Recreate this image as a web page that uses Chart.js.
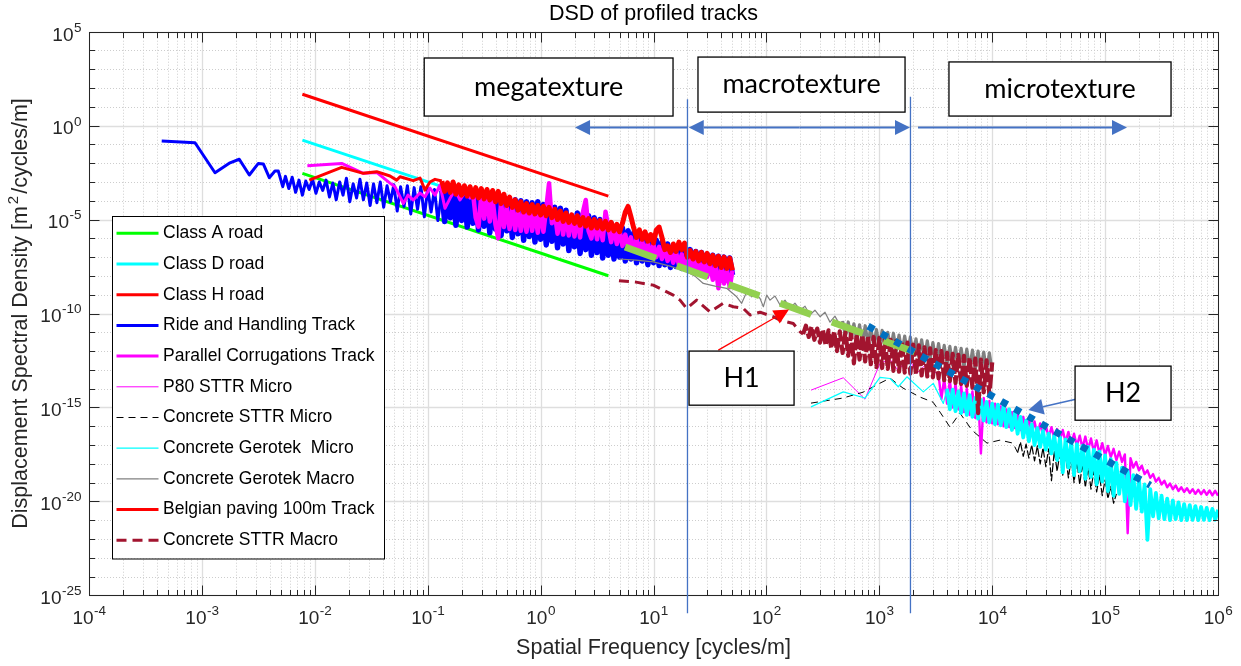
<!DOCTYPE html>
<html lang="en">
<head>
<meta charset="UTF-8">
<title>DSD of profiled tracks</title>
<script src="https://cdn.jsdelivr.net/npm/chart.js"></script>
<style>
  html, body { margin: 0; padding: 0; background: #fff; }
  #box { width: 1241px; height: 666px; }
</style>
</head>
<body>
<div id="box"><canvas id="dsd"></canvas></div>
<script>
// Every spectrum is kept as log10 values:
// frequency in cycles/m, displacement spectral density in m^2/(cycles/m)

// ISO 8608 road classes (straight lines, slope -2)
const isoF = [-2.11, 0.60];
const classA = [-2.54, -7.99];
const classD = [-0.77, -6.19];
const classH = [1.67, -3.75];

// frequency grids shared by the measured tracks
const trackF = [
  -0.875,-0.85,-0.825,-0.8,-0.775,-0.75,-0.725,-0.7,-0.675,-0.65,
  -0.625,-0.6,-0.575,-0.55,-0.525,-0.5,-0.475,-0.45,-0.425,-0.4,
  -0.375,-0.35,-0.325,-0.3,-0.275,-0.25,-0.225,-0.2,-0.175,-0.15,
  -0.125,-0.1,-0.075,-0.05,-0.025,0,0.025,0.05,0.075,0.1,
  0.125,0.15,0.175,0.2,0.225,0.25,0.275,0.3,0.325,0.35,
  0.375,0.4,0.425,0.45,0.475,0.5,0.525,0.55,0.575,0.6,
  0.625,0.65,0.675,0.7,0.725,0.75,0.775,0.8,0.825,0.85,
  0.875,0.9,0.925,0.95,0.975,1,1.025,1.05,1.075,1.1,
  1.125,1.15,1.175,1.2,1.225,1.25,1.275,1.3,1.325,1.35,
  1.375,1.4,1.425,1.45,1.475,1.5,1.525,1.55,1.575,1.6,
  1.625,1.65,1.675,1.7
];
const macroF = [
  2.325,2.35,2.375,2.4,2.425,2.45,2.475,2.5,2.525,2.55,
  2.575,2.6,2.625,2.65,2.675,2.7,2.725,2.75,2.775,2.8,
  2.825,2.85,2.875,2.9,2.925,2.95,2.975,3,3.025,3.05,
  3.075,3.1,3.125,3.15,3.175,3.2,3.225,3.25,3.275,3.3,
  3.325,3.35,3.375,3.4,3.425,3.45,3.475,3.5,3.525,3.55,
  3.575,3.6,3.625,3.65,3.675,3.7,3.725,3.75,3.775,3.8,
  3.825,3.85,3.875,3.9,3.925,3.95,3.975,4
];
const microF = [
  3.525,3.55,3.575,3.6,3.625,3.65,3.675,3.7,3.725,3.75,
  3.775,3.8,3.825,3.85,3.875,3.9,3.925,3.95,3.975,4,
  4.025,4.05,4.075,4.1,4.125,4.15,4.175,4.2,4.225,4.25,
  4.275,4.3,4.325,4.35,4.375,4.4,4.425,4.45,4.475,4.5,
  4.525,4.55,4.575,4.6,4.625,4.65,4.675,4.7,4.725,4.75,
  4.775,4.8,4.825,4.85,4.875,4.9,4.925,4.95,4.975,5,
  5.025,5.05,5.075,5.1,5.125,5.15,5.175,5.2,5.225,5.25,
  5.275,5.3,5.325,5.35,5.375,5.4,5.425,5.45,5.475,5.5,
  5.525,5.55,5.575,5.6,5.625,5.65,5.675,5.7,5.725,5.75,
  5.775,5.8,5.825,5.85,5.875,5.9,5.925,5.95,5.975,6
];

// Ride and Handling Track
const rideHeadF = [
  -3.356,-3.061,-2.884,-2.751,-2.669,-2.580,-2.500,-2.456,-2.403,-2.353,-2.323,-2.284,
  -2.26,-2.23,-2.20,-2.17,-2.14,-2.11,-2.08,-2.05,-2.02,-1.99,-1.96,-1.93,-1.90,-1.87,
  -1.84,-1.81,-1.78,-1.75,-1.72,-1.69,-1.66,-1.63,-1.60,-1.57,-1.54,-1.51,-1.48,-1.45,
  -1.42,-1.39,-1.36,-1.33,-1.30,-1.27,-1.24,-1.21,-1.18,-1.15,-1.12,-1.09,-1.06,-1.03,
  -1.00,-0.97,-0.94,-0.91
];
const rideHeadS = [
  -0.82,-0.91,-2.51,-1.98,-1.79,-2.63,-2.01,-2.04,-2.77,-2.42,-2.42,-3.25,
  -2.70,-3.35,-2.75,-3.55,-2.90,-3.70,-2.95,-3.40,-2.85,-3.60,-3.00,-3.45,-2.90,-3.80,
  -3.05,-3.95,-3.00,-3.70,-2.80,-4.05,-3.10,-3.85,-2.85,-3.95,-3.05,-4.25,-3.10,-4.10,
  -3.00,-4.35,-3.20,-4.05,-3.15,-4.55,-3.25,-4.30,-3.20,-4.70,-3.30,-4.45,-3.25,-4.85,
  -3.35,-4.60,-3.40,-5.05
];
const rideS = [
  -3.45,-5.10,-3.55,-4.90,-3.40,-5.30,-3.60,-5.05,-3.50,-5.40,
  -3.55,-5.20,-3.70,-5.55,-3.60,-5.35,-3.75,-5.70,-3.65,-5.50,
  -3.80,-5.85,-3.85,-5.60,-4.40,-5.95,-3.95,-5.75,-4.00,-6.10,
  -4.05,-5.90,-4.10,-6.20,-4.05,-6.05,-4.20,-6.35,-4.25,-6.15,
  -4.35,-6.50,-4.40,-6.30,-4.50,-6.65,-5.20,-6.45,-4.65,-6.80,
  -4.70,-6.60,-4.80,-6.90,-4.90,-6.75,-5.00,-7.05,-5.10,-6.90,
  -5.20,-7.10,-5.90,-7.00,-5.45,-7.20,-5.60,-7.10,-5.70,-7.30,
  -5.80,-7.20,-5.90,-7.40,-6.00,-7.30,-6.10,-7.45,-6.20,-7.40,
  -6.30,-7.55,-6.40,-7.50,-6.45,-7.60,-6.55,-7.55,-6.60,-7.70,
  -6.70,-7.65,-6.75,-7.75,-6.85,-7.70,-6.90,-7.85,-6.95,-7.80,
  -7.00,-7.90,-7.05,-7.95
];

// Belgian paving 100m Track
const belgianHeadF = [-2.049,-1.762,-1.570,-1.452,-1.334,-1.275,-1.245,-1.128,-1.068,-1.024,-0.980,-0.935];
const belgianHeadS = [-2.90,-2.22,-2.54,-2.45,-2.68,-2.90,-2.72,-2.93,-2.79,-3.43,-3.00,-2.86];
const belgianS = [
  -2.95,-3.50,-3.05,-3.55,-3.00,-3.65,-3.15,-3.70,-3.20,-3.75,
  -3.25,-3.80,-3.30,-3.85,-3.35,-3.90,-3.40,-3.95,-3.45,-4.05,
  -3.50,-4.15,-3.65,-4.25,-3.80,-4.35,-3.95,-4.50,-4.05,-4.60,
  -4.15,-4.65,-4.20,-4.70,-4.25,-4.75,-4.30,-4.80,-4.35,-4.90,
  -4.45,-5.00,-4.55,-5.10,-4.65,-5.15,-4.75,-5.20,-4.80,-5.30,
  -4.90,-5.35,-4.95,-5.45,-5.00,-5.45,-5.05,-5.50,-5.10,-5.55,
  -5.15,-5.60,-5.25,-5.65,-5.20,-4.60,-4.30,-4.85,-5.45,-5.95,
  -5.55,-6.05,-5.65,-6.15,-5.80,-6.25,-5.55,-5.40,-5.95,-6.60,
  -6.40,-6.75,-6.30,-6.70,-6.20,-6.60,-6.25,-7.00,-6.65,-7.10,
  -6.70,-7.20,-6.75,-7.25,-6.80,-7.35,-6.90,-7.45,-6.95,-7.55,
  -7.00,-7.60,-7.05,-7.70
];

// Parallel Corrugations Track (dense part sampled on trackF from -0.6)
const corrHeadF = [
  -2.066,-1.762,-1.570,-1.452,-1.334,-1.290,-1.216,-1.175,-1.128,-1.068,
  -1.024,-0.980,-0.935,-0.891,-0.847,-0.802,-0.758,-0.714,-0.670,-0.625
];
const corrHeadS = [
  -2.14,-2.01,-2.54,-2.49,-3.06,-3.25,-4.14,-3.70,-3.96,-3.59,
  -3.79,-3.32,-3.70,-3.16,-4.40,-3.87,-3.43,-3.96,-3.54,-3.86
];
const corrS = [
  -3.50,-4.90,-5.38,-3.70,-4.95,-3.80,-5.10,-3.95,-5.25,-6.00,
  -4.10,-5.40,-4.30,-5.50,-4.40,-5.55,-4.45,-5.60,-4.50,-5.65,
  -4.45,-5.60,-4.55,-5.70,
  -4.50,-5.65,-4.40,-3.07,-5.20,-4.60,-5.75,-4.65,-5.80,-4.70,
  -5.85,-4.75,-5.90,-4.80,-5.95,-4.60,-3.96,-5.60,-6.00,-5.00,
  -6.05,-5.10,-6.10,-4.58,-5.40,-6.20,-5.40,-6.30,-5.60,-6.40,
  -5.80,-6.50,-5.95,-6.60,-6.05,-6.70,-6.15,-6.80,-6.25,-6.90,
  -6.35,-7.00,-6.45,-7.10,-6.55,-7.20,-6.65,-7.30,-6.75,-7.40,
  -6.85,-7.50,-6.95,-7.60,-7.05,-7.75,-7.15,-7.90,-7.25,-8.05,
  -7.35,-8.20,-7.45,-8.66,-7.55,-8.40,-7.65,-8.60,-7.70
];

// Concrete Gerotek Macro
const geroMacroHeadF = [
  0.694,0.845,0.998,1.146,1.294,1.367,1.441,1.545,1.648,1.737,1.781,1.826,1.870,1.899,1.944,1.973,
  2.003,2.032,2.076,2.121,2.165,2.209,2.253,2.298,2.342,2.386,2.430,2.475,2.519,2.563,2.607,2.652
];
const geroMacroHeadS = [
  -7.10,-7.16,-7.25,-7.48,-7.78,-8.01,-8.40,-8.54,-8.66,-9.11,-9.46,-8.84,-9.11,-8.91,-9.20,-9.64,
  -9.02,-9.29,-9.07,-9.55,-9.29,-9.71,-9.45,-9.82,-9.61,-10.08,-9.82,-10.17,-9.93,-10.46,-10.14,-10.62
];
const geroMacroS = [
  -10.40,-11.20,-10.45,-11.35,-10.55,-11.40,-10.60,-11.55,-10.65,-11.60,
  -10.75,-11.70,-10.85,-11.80,-10.90,-11.85,-11.00,-11.95,-11.05,-12.00,
  -11.15,-12.10,-11.20,-12.15,-11.25,-12.25,-11.35,-12.30,-11.40,-12.40,
  -11.45,-12.45,-11.55,-12.55,-11.60,-12.60,-11.70,-12.70,-11.75,-12.75,
  -11.80,-12.80,-11.85,-12.85,-11.90,-12.95,-11.95,-13.00,-12.00,-13.05,
  -12.05,-13.10,-12.10,-13.10
];

// Concrete STTR Macro
const sttrMacroHeadF = [0.694,0.845,0.998,1.175,1.235,1.294,1.382,1.500,1.618,1.707,1.795,1.855,1.943,2.061,2.121,2.238,2.298];
const sttrMacroHeadS = [-8.26,-8.33,-8.49,-9.02,-9.29,-9.73,-9.29,-9.91,-9.46,-9.64,-9.73,-10.08,-9.93,-10.17,-10.35,-10.53,-10.97];
const sttrMacroS = [
  -11.10,-10.65,-11.25,-10.70,-11.40,-10.80,-11.55,-10.85,-11.70,-10.90,
  -11.85,-10.95,-12.00,-10.95,-12.10,-11.00,-12.25,-11.05,-12.65,-11.10,
  -12.45,-11.15,-12.55,-11.20,-12.70,-11.25,-12.85,-11.30,-12.90,-11.35,
  -12.95,-11.40,-13.05,-11.45,-13.10,-11.50,-13.15,-11.55,-13.20,-11.65,
  -13.25,-11.70,-13.30,-11.80,-13.35,-11.85,-13.40,-11.95,-13.45,-12.00,
  -13.55,-12.10,-13.60,-12.15,-13.70,-12.20,-13.75,-12.25,-13.85,-12.35,
  -13.95,-12.40,-15.30,-12.45,-14.20,-12.50,-14.35,-12.60
];

// P80 STTR Micro
const p80HeadF = [2.395,2.681,2.873,3.006,3.095,3.168,3.257,3.331,3.405,3.493];
const p80HeadS = [-14.08,-13.42,-14.56,-12.66,-12.44,-13.05,-12.31,-13.19,-12.75,-13.12];
const p80S = [
  -13.30,-14.55,-13.45,-14.80,-13.55,-15.00,-13.70,-15.10,-13.85,-15.25,
  -14.00,-15.40,-14.15,-15.55,-14.30,-17.45,-14.50,-15.80,-14.65,-15.85,
  -14.80,-15.90,-14.95,-16.00,-15.10,-16.05,-15.25,-16.10,-15.35,-16.20,
  -15.50,-16.30,-15.60,-16.35,-15.75,-16.45,-15.85,-16.50,-15.95,-16.60,
  -16.05,-16.65,-16.15,-16.75,-16.20,-16.85,-16.30,-16.95,-16.40,-17.05,
  -16.50,-17.15,-16.55,-17.25,-16.65,-17.35,-16.75,-17.45,-16.90,-17.55,
  -17.05,-17.65,-17.20,-17.80,-17.35,-17.90,-17.50,-21.70,-17.70,-18.20,
  -17.90,-18.35,-18.10,-18.55,-18.35,-18.75,-18.55,-18.95,-18.75,-19.10,
  -18.90,-19.25,-19.05,-19.35,-19.15,-19.45,-19.25,-19.50,-19.30,-19.55,
  -19.35,-19.60,-19.38,-19.62,-19.40,-19.65,-19.42,-19.68,-19.44,-19.70
];

// Concrete Gerotek Micro
const geroMicroHeadF = [2.395,2.681,2.873,3.006,3.095,3.168,3.245,3.390,3.478,3.567];
const geroMicroHeadS = [-14.97,-14.17,-14.50,-13.40,-13.46,-13.90,-13.37,-14.17,-13.72,-14.79];
const geroMicroS = [
  -14.00,-15.10,-14.05,-15.20,-14.15,-15.30,-14.25,-15.40,-14.35,-15.50,
  -14.50,-15.60,-14.60,-15.70,-14.70,-15.80,-14.80,-15.90,-14.85,-15.95,
  -14.95,-16.05,-15.10,-16.20,-15.30,-16.40,-15.50,-16.60,-15.70,-16.80,
  -15.90,-17.00,-16.10,-17.10,-16.25,-17.25,-16.40,-17.45,-16.50,-17.80,
  -16.60,-18.45,-16.70,-18.20,-16.85,-18.60,-16.95,-18.40,-17.05,-18.80,
  -17.10,-18.70,-17.25,-19.10,-17.35,-18.95,-17.55,-19.45,-17.75,-19.70,
  -17.95,-19.60,-18.20,-20.00,-18.40,-20.20,-18.60,-20.40,-18.85,-20.55,
  -19.10,-22.05,-19.35,-20.80,-19.55,-20.90,-19.70,-20.95,-19.85,-21.00,
  -19.95,-20.95,-20.05,-21.00,-20.15,-21.00,-20.20,-20.98,-20.25,-21.00,
  -20.30,-20.98,-20.35,-21.00,-20.40,-20.98,-20.45
];

// Concrete STTR Micro
const sttrMicroHeadF = [2.395,2.678,2.856,3.006,3.095,3.210,3.361,3.476,3.538,3.626,3.714,3.821,3.954,4.069,4.184];
const sttrMicroHeadS = [-14.77,-14.50,-14.19,-13.71,-13.44,-13.97,-14.45,-14.72,-15.25,-16.05,-15.30,-16.21,-16.90,-16.74,-16.90];
const sttrMicroS = [
  -17.40,-16.85,-17.60,-16.95,-17.70,-17.00,-17.85,-17.05,-18.00,-17.15,
  -18.15,-17.20,-18.90,-17.30,-18.40,-17.40,-18.60,-17.50,-18.75,-17.70,
  -19.00,-17.85,-19.10,-18.00,-19.25,-18.20,-19.35,-18.40,-19.50,-18.60,
  -19.70,-18.85,-19.85,-19.20,-20.10,-19.60
];

// straight-line fits H1 and H2
const h1F = [0.748, 3.316];
const h1S = [-6.46, -12.06];
const h2F = [2.90, 5.40];
const h2S = [-10.67, -19.14];

// labelled powers of ten on each axis
const xTickExps = [-4, -3, -2, -1, 0, 1, 2, 3, 4, 5, 6];
const yTickExps = [5, 0, -5, -10, -15, -20, -25];

// texture ranges: boundaries at 20 and ~1900 cycles/m (log10)
const zoneEdges = [1.301, 3.276];

const toPoints = (f, s) => f.map((v, i) => ({ x: Math.pow(10, v), y: Math.pow(10, s[i]) }));

// a line series; `dense` thickens the part above a given log10 frequency,
// where the spectrum is sampled so tightly that it reads as a band
function series(label, f, s, color, width, dash, dense) {
  const ds = {
    label,
    data: toPoints(f, s),
    borderColor: color,
    borderWidth: width,
    borderDash: dash || [],
    borderJoinStyle: 'round',
    pointRadius: 0,
    fill: false,
    tension: 0
  };
  if (dense) {
    const from = Math.pow(10, dense.from);
    ds.segment = {
      borderWidth: c => (c.p0.parsed.x >= from ? dense.width : undefined),
      borderDash: c => (c.p0.parsed.x >= from && dense.dash ? dense.dash : undefined)
    };
  }
  return ds;
}

const datasets = [
  series('Class A road', isoF, classA, '#00ff00', 3),
  series('Class D road', isoF, classD, '#00ffff', 3),
  series('Class H road', isoF, classH, '#ff0000', 3),
  series('Ride and Handling Track', rideHeadF.concat(trackF), rideHeadS.concat(rideS), '#0000ff', 3, null,
    { from: -0.9, width: 5.5 }),
  series('Parallel Corrugations Track', corrHeadF.concat(trackF.slice(11)), corrHeadS.concat(corrS), '#ff00ff', 3,
    null, { from: -0.61, width: 4.5 }),
  series('P80 STTR Micro', p80HeadF.concat(microF), p80HeadS.concat(p80S), '#ff00ff', 1, null,
    { from: 3.5, width: 2.4 }),
  series('Concrete STTR Micro', sttrMicroHeadF.concat(microF.slice(28, 64)), sttrMicroHeadS.concat(sttrMicroS),
    '#000000', 1, [7, 5], { from: 4.2, width: 1.2, dash: [9, 2] }),
  series('Concrete Gerotek  Micro', geroMicroHeadF.concat(microF.slice(3)), geroMicroHeadS.concat(geroMicroS),
    '#00ffff', 1.2, null, { from: 3.6, width: 3.8 }),
  series('Concrete Gerotek Macro', geroMacroHeadF.concat(macroF.slice(14)), geroMacroHeadS.concat(geroMacroS),
    '#808080', 1.2, null, { from: 2.66, width: 3.2 }),
  series('Belgian paving 100m Track', belgianHeadF.concat(trackF), belgianHeadS.concat(belgianS), '#ff0000', 3, null,
    { from: -0.9, width: 5 }),
  series('Concrete STTR Macro', sttrMacroHeadF.concat(macroF), sttrMacroHeadS.concat(sttrMacroS), '#a2142f', 3,
    [10, 6], { from: 2.3, width: 4.2, dash: [14, 3] })
];
const legendCount = datasets.length;
datasets.push(
  Object.assign(series('H1', h1F, h1S, '#92d050', 7, [33, 22]), { borderCapStyle: 'butt' }),
  Object.assign(series('H2', h2F, h2S, '#0070c0', 7, [7, 8.3]), { borderCapStyle: 'butt' })
);
// later series are painted over earlier ones
datasets.forEach((d, i) => { d.order = datasets.length - i; });

// overlay boxes and arrows, placed in log10 data coordinates
const zoneBoxes = [
  { text: 'megatexture', f: [-1.031, 1.173], s: [3.60, 0.51] },
  { text: 'macrotexture', f: [1.394, 3.228], s: [3.65, 0.72] },
  { text: 'microtexture', f: [3.617, 5.584], s: [3.39, 0.51] },
  { text: 'H1', f: [1.315, 2.245], s: [-12.00, -14.88] },
  { text: 'H2', f: [4.734, 5.584], s: [-12.80, -15.68] }
];

const AX = '#262626';
const SANS = '"Liberation Sans", Arial, Helvetica, sans-serif';

function tenPow(ctx, exp, x, yMid, align) {
  const e = String(exp);
  ctx.font = '19px ' + SANS;
  const wb = ctx.measureText('10').width;
  ctx.font = '13.5px ' + SANS;
  const we = ctx.measureText(e).width;
  const left = align === 'center' ? x - (wb + we) / 2 : x - wb - we;
  ctx.textAlign = 'left';
  ctx.textBaseline = 'middle';
  ctx.font = '19px ' + SANS;
  ctx.fillText('10', left, yMid + 3.6);
  ctx.font = '13.5px ' + SANS;
  ctx.fillText(e, left + wb + 0.5, yMid - 3.8);
}

function arrow(ctx, x1, y1, x2, y2, color, lw, hl, hw) {
  const a = Math.atan2(y2 - y1, x2 - x1);
  const bx = x2 - hl * Math.cos(a), by = y2 - hl * Math.sin(a);
  ctx.strokeStyle = color;
  ctx.fillStyle = color;
  ctx.lineWidth = lw;
  ctx.beginPath();
  ctx.moveTo(x1, y1);
  ctx.lineTo(bx, by);
  ctx.stroke();
  ctx.beginPath();
  ctx.moveTo(x2, y2);
  ctx.lineTo(bx + hw / 2 * Math.sin(a), by - hw / 2 * Math.cos(a));
  ctx.lineTo(bx - hw / 2 * Math.sin(a), by + hw / 2 * Math.cos(a));
  ctx.closePath();
  ctx.fill();
}

const axesFrame = {
  id: 'axesFrame',
  beforeDatasetsDraw(chart) {
    const { ctx, chartArea: a, scales: { x, y } } = chart;
    ctx.save();
    ctx.lineWidth = 1;
    // minor grid (dotted)
    ctx.strokeStyle = '#cdcdcd';
    ctx.setLineDash([1, 2]);
    ctx.beginPath();
    for (let e = -4; e < 6; e++) {
      for (let k = 2; k <= 9; k++) {
        const px = Math.round(x.getPixelForValue(k * 10 ** e)) + 0.5;
        ctx.moveTo(px, a.top);
        ctx.lineTo(px, a.bottom);
      }
    }
    for (let e = -24; e < 5; e++) {
      if (e % 5 === 0) continue;
      const py = Math.round(y.getPixelForValue(10 ** e)) + 0.5;
      ctx.moveTo(a.left, py);
      ctx.lineTo(a.right, py);
    }
    ctx.stroke();
    // major grid
    ctx.setLineDash([]);
    ctx.strokeStyle = '#dedede';
    ctx.lineWidth = 1.3;
    ctx.beginPath();
    xTickExps.forEach(e => {
      const px = Math.round(x.getPixelForValue(10 ** e)) + 0.5;
      ctx.moveTo(px, a.top);
      ctx.lineTo(px, a.bottom);
    });
    yTickExps.forEach(e => {
      const py = Math.round(y.getPixelForValue(10 ** e)) + 0.5;
      ctx.moveTo(a.left, py);
      ctx.lineTo(a.right, py);
    });
    ctx.stroke();
    ctx.restore();
  },
  afterDatasetsDraw(chart) {
    const { ctx, chartArea: a, scales: { x, y } } = chart;
    ctx.save();
    ctx.strokeStyle = AX;
    ctx.lineWidth = 1;
    const L = Math.round(a.left) + 0.5, R = Math.round(a.right) + 0.5;
    const T = Math.round(a.top) + 0.5, B = Math.round(a.bottom) + 0.5;
    ctx.strokeRect(L, T, R - L, B - T);

    // tick marks on all four sides
    ctx.beginPath();
    for (let e = -4; e <= 6; e++) {
      for (let k = 1; k <= 9; k++) {
        if (e === 6 && k > 1) break;
        const px = Math.round(x.getPixelForValue(k * 10 ** e)) + 0.5;
        const len = k === 1 ? 10 : 5.5;
        ctx.moveTo(px, B); ctx.lineTo(px, B - len);
        ctx.moveTo(px, T); ctx.lineTo(px, T + len);
      }
    }
    for (let e = -25; e <= 5; e++) {
      const py = Math.round(y.getPixelForValue(10 ** e)) + 0.5;
      const len = e % 5 === 0 ? 10 : 5.5;
      ctx.moveTo(L, py); ctx.lineTo(L + len, py);
      ctx.moveTo(R, py); ctx.lineTo(R - len, py);
    }
    ctx.stroke();

    // tick labels
    ctx.fillStyle = AX;
    xTickExps.forEach(e => tenPow(ctx, e, x.getPixelForValue(10 ** e), a.bottom + 20, 'center'));
    yTickExps.forEach(e => tenPow(ctx, e, 81, y.getPixelForValue(10 ** e), 'right'));

    // axis titles and chart title
    ctx.textAlign = 'center';
    ctx.textBaseline = 'middle';
    ctx.font = '21.5px ' + SANS;
    ctx.fillText('Spatial Frequency [cycles/m]', (a.left + a.right) / 2, 648.5);
    ctx.fillStyle = '#000';
    ctx.fillText('DSD of profiled tracks', (a.left + a.right) / 2, 14);

    ctx.fillStyle = AX;
    ctx.save();
    ctx.translate(21, (a.top + a.bottom) / 2);
    ctx.rotate(-Math.PI / 2);
    const p1 = 'Displacement Spectral Density [m', p2 = '2', p3 = '/cycles/m]';
    ctx.font = '21.5px ' + SANS;
    const w1 = ctx.measureText(p1).width, w3 = ctx.measureText(p3).width;
    ctx.font = '15px ' + SANS;
    const w2 = ctx.measureText(p2).width + 4;
    const cx = -(w1 + w2 + w3) / 2;
    ctx.textAlign = 'left';
    ctx.font = '21.5px ' + SANS;
    ctx.fillText(p1, cx, 0);
    ctx.font = '15px ' + SANS;
    ctx.fillText(p2, cx + w1 + 2, -7);
    ctx.font = '21.5px ' + SANS;
    ctx.fillText(p3, cx + w1 + w2, 0);
    ctx.restore();

    // legend
    const lx = a.left + 23, ly = a.top + 184, lw = 272, rowH = 30.7;
    ctx.fillStyle = '#fff';
    ctx.fillRect(lx, ly, lw, 342.5);
    ctx.strokeStyle = '#000';
    ctx.lineWidth = 1;
    ctx.strokeRect(Math.round(lx) + 0.5, Math.round(ly) + 0.5, lw, 342.5);
    ctx.font = '17.5px ' + SANS;
    ctx.textAlign = 'left';
    ctx.textBaseline = 'middle';
    for (let i = 0; i < legendCount; i++) {
      const d = chart.data.datasets[i];
      const cy = ly + 17.6 + i * rowH;
      ctx.strokeStyle = d.borderColor;
      ctx.lineWidth = d.borderWidth;
      ctx.setLineDash(d.borderDash);
      ctx.beginPath();
      ctx.moveTo(lx + 4.5, cy);
      ctx.lineTo(lx + 46.5, cy);
      ctx.stroke();
      ctx.setLineDash([]);
      ctx.fillStyle = '#000';
      ctx.fillText(d.label, lx + 51, cy);
    }
    ctx.restore();
  },
  afterDraw(chart) {
    const { ctx, scales: { x, y } } = chart;
    const px = f => x.getPixelForValue(10 ** f);
    const py = s => y.getPixelForValue(10 ** s);
    const blue = '#4472c4';
    ctx.save();

    // texture range boundaries
    ctx.strokeStyle = blue;
    ctx.lineWidth = 1.3;
    ctx.beginPath();
    ctx.moveTo(px(zoneEdges[0]), py(1.40));
    ctx.lineTo(px(zoneEdges[0]), py(-25.95));
    ctx.moveTo(px(zoneEdges[1]), py(1.54));
    ctx.lineTo(px(zoneEdges[1]), py(-25.95));
    ctx.stroke();

    // range arrows
    const ay = py(-0.10);
    arrow(ctx, px(1.30), ay, px(0.305), ay, blue, 1.8, 15, 15);
    const mid = (px(1.312) + px(3.272)) / 2;
    arrow(ctx, mid, ay, px(1.312), ay, blue, 1.8, 15, 15);
    arrow(ctx, mid, ay, px(3.272), ay, blue, 1.8, 15, 15);
    arrow(ctx, px(3.343), ay, px(5.194), ay, blue, 1.8, 15, 15);

    // pointers to the fitted lines
    arrow(ctx, px(1.574), py(-11.95), px(2.200), py(-9.79), '#ff0000', 1.3, 15, 15);
    arrow(ctx, px(4.740), py(-14.56), px(4.320), py(-15.14), blue, 1.5, 15, 16);

    // labelled boxes
    ctx.font = '27px Lato, "Open Sans", sans-serif';
    ctx.textAlign = 'center';
    ctx.textBaseline = 'middle';
    zoneBoxes.forEach(b => {
      const x1 = px(b.f[0]), x2 = px(b.f[1]), y1 = py(b.s[0]), y2 = py(b.s[1]);
      ctx.fillStyle = '#fff';
      ctx.fillRect(x1, y1, x2 - x1, y2 - y1);
      ctx.strokeStyle = '#000';
      ctx.lineWidth = 1.3;
      ctx.strokeRect(x1, y1, x2 - x1, y2 - y1);
      ctx.fillStyle = '#000';
      ctx.fillText(b.text, (x1 + x2) / 2, (y1 + y2) / 2);
    });
    ctx.restore();
  }
};

new Chart(document.getElementById('dsd'), {
  type: 'line',
  data: { datasets },
  options: {
    responsive: true,
    maintainAspectRatio: false,
    devicePixelRatio: 1,
    animation: false,
    events: [],
    layout: { padding: { left: 89, right: 23, top: 31.7, bottom: 70.7 } },
    scales: {
      x: { type: 'logarithmic', min: 1e-4, max: 1e6, display: false },
      y: { type: 'logarithmic', min: 1e-25, max: 1e5, display: false }
    },
    plugins: {
      legend: { display: false },
      tooltip: { enabled: false },
      title: { display: false }
    }
  },
  plugins: [axesFrame]
});
</script>
</body>
</html>
